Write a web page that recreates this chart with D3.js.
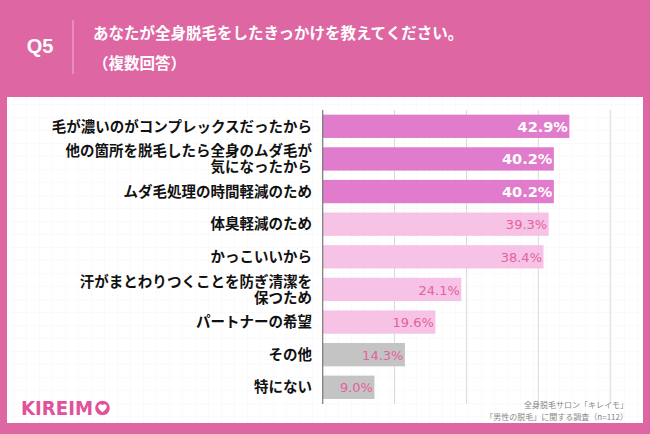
<!DOCTYPE html>
<html><head><meta charset="utf-8">
<script src="https://cdn.jsdelivr.net/npm/d3@7"></script>
<style>
html,body{margin:0;padding:0;background:#DE67A3;}
svg{display:block;}
text{font-family:"Noto Sans CJK JP","Noto Sans",sans-serif;}
</style></head>
<body>
<script>
const categories = [
  ["毛が濃いのがコンプレックスだったから"],
  ["他の箇所を脱毛したら全身のムダ毛が","気になったから"],
  ["ムダ毛処理の時間軽減のため"],
  ["体臭軽減のため"],
  ["かっこいいから"],
  ["汗がまとわりつくことを防ぎ清潔を","保つため"],
  ["パートナーの希望"],
  ["その他"],
  ["特にない"]
];
const values = [42.9, 40.2, 40.2, 39.3, 38.4, 24.1, 19.6, 14.3, 9.0];
const groups = ["top","top","top","mid","mid","mid","mid","low","low"];
const gridTicks = [12.5, 25, 37.5, 50];
const titleLines = ["あなたが全身脱毛をしたきっかけを教えてください。","（複数回答）"];
const sourceLines = ["全身脱毛サロン「キレイモ」","「男性の脱毛」に関する調査（n=112）"];

const W = 650, H = 434;
const svg = d3.select("body").append("svg").attr("width", W).attr("height", H);

// faint background grid pattern for the panel
const defs = svg.append("defs");
const pat = defs.append("pattern").attr("id","bgGrid").attr("width",13).attr("height",13)
  .attr("patternUnits","userSpaceOnUse");
pat.append("rect").attr("width",13).attr("height",13).attr("fill","#ffffff");
pat.append("path").attr("d","M13 0 L0 0 0 13").attr("fill","none").attr("stroke","#f5f5f5").attr("stroke-width",1);

// background
svg.append("rect").attr("width", W).attr("height", H).attr("fill", "#DE67A3");
svg.append("rect").attr("x", 7).attr("y", 97).attr("width", 636).attr("height", 326).attr("fill", "url(#bgGrid)");

// header
svg.append("text").attr("x", 40).attr("y", 52.5).attr("text-anchor","middle")
  .attr("fill","#fff").attr("font-size", 20).attr("font-weight", "bold")
  .style("font-family","'Liberation Sans',Arial,sans-serif").text("Q5");
svg.append("line").attr("x1", 73).attr("x2", 73).attr("y1", 20).attr("y2", 74)
  .attr("stroke", "#F2B5D3").attr("stroke-width", 1);
svg.selectAll("text.title").data(titleLines).enter().append("text")
  .attr("class","title").attr("x", 93).attr("y", (d,i)=> 39 + i*30)
  .attr("fill","#fff").attr("font-size", 15.5).attr("font-weight","bold").text(d=>d);

// scales
const x = d3.scaleLinear().domain([0, 50]).range([322.7, 610.2]);
const y = d3.scaleBand().domain(d3.range(categories.length)).range([110, 403.6])
  .paddingInner(0.285).paddingOuter(0.1425);

// grid
const g = svg.append("g");
g.selectAll("line.grid").data(gridTicks).enter().append("line")
  .attr("x1", d=>x(d)).attr("x2", d=>x(d)).attr("y1", 110).attr("y2", 404)
  .attr("stroke", "#d9d9d9").attr("stroke-width", 1);

const fillFor = {top:"#E07CCB", mid:"#F6C3E6", low:"#C4C4C4"};
g.selectAll("rect.bar").data(values).enter().append("rect")
  .attr("x", x(0)).attr("y", (d,i)=>y(i)).attr("width", d=>x(d)-x(0))
  .attr("height", y.bandwidth()).attr("fill", (d,i)=>fillFor[groups[i]]);

// axis line
g.append("line").attr("x1", x(0)).attr("x2", x(0)).attr("y1", 110).attr("y2", 404)
  .attr("stroke", "#777").attr("stroke-width", 1.2);

// value labels
g.selectAll("text.val").data(values).enter().append("text")
  .attr("x", d=>x(d)-1.5).attr("y", (d,i)=>y(i)+y.bandwidth()/2+5.2)
  .attr("text-anchor","end")
  .attr("font-size", (d,i)=> groups[i]==="top" ? 14.5 : 13)
  .style("font-family","'DejaVu Sans',sans-serif")
  .attr("font-weight", (d,i)=> groups[i]==="top" ? "bold" : "normal")
  .attr("fill", (d,i)=> groups[i]==="top" ? "#ffffff" : "#E5609F")
  .text(d=>d.toFixed(1)+"%");

// category labels
const cl = g.selectAll("text.cat").data(categories).enter().append("text")
  .attr("text-anchor","end").attr("font-size", 14.5).attr("font-weight","bold").attr("fill","#111");
cl.each(function(lines, i){
  const t = d3.select(this);
  const cy = y(i) + y.bandwidth()/2;
  const lh = 16;
  lines.forEach((ln, j)=>{
    t.append("tspan").attr("x", 312)
      .attr("y", cy + 5.2 + (j - (lines.length-1)/2)*lh).text(ln);
  });
});

// source
svg.selectAll("text.src").data(sourceLines).enter().append("text")
  .attr("x", 628).attr("y", (d,i)=> 408 + i*12).attr("text-anchor","end")
  .attr("font-size", 8).attr("fill","#888").text(d=>d);

// logo
const logo = svg.append("g");
logo.append("text").attr("x", 21).attr("y", 415).attr("font-size", 19).attr("font-weight","bold")
  .attr("fill","#E0529A").style("font-family","'DejaVu Sans',sans-serif")
  .attr("textLength", 72).attr("lengthAdjust","spacingAndGlyphs").text("KIREIM");
logo.append("circle").attr("cx", 102.5).attr("cy", 408).attr("r", 7.3).attr("fill", "#E0529A");
logo.append("path")
  .attr("d", "M102.5,412.2 C98.2,409 97.6,406.6 98.6,405.2 C99.7,403.8 101.7,404.1 102.5,405.6 C103.3,404.1 105.3,403.8 106.4,405.2 C107.4,406.6 106.8,409 102.5,412.2 Z")
  .attr("fill", "#fff");
</script>
</body></html>
